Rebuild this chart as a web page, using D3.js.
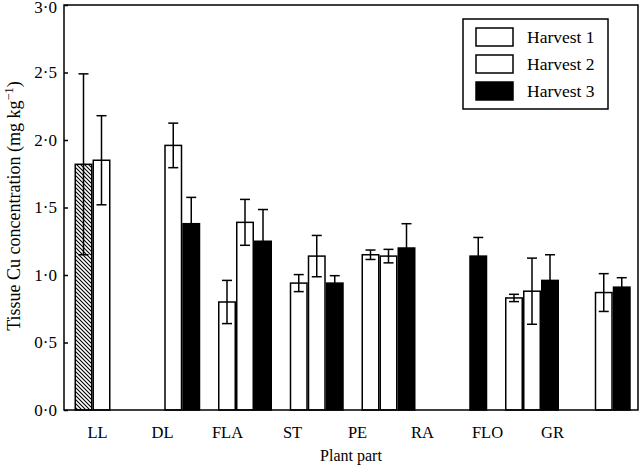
<!DOCTYPE html>
<html><head><meta charset="utf-8">
<script src="https://cdn.jsdelivr.net/npm/d3@7"></script>
<style>body{margin:0;background:#fff}svg{display:block}svg text{font-family:"Liberation Serif",serif;fill:#000}</style>
</head><body><svg id="c" width="640" height="473"></svg>
<script>
const categories = ["LL","DL","FLA","ST","PE","RA","FLO","GR"];
const harvests = ["Harvest 1","Harvest 2","Harvest 3"];
// null = no bar
const h1Values = [1.82, null, 0.80, 0.94, 1.15, null, 0.83, null];
const h1Errors = [0.67, null, 0.16, 0.063, 0.035, null, 0.027, null];
const h2Values = [1.85, 1.96, 1.39, 1.14, 1.14, null, 0.88, 0.87];
const h2Errors = [0.33, 0.165, 0.17, 0.153, 0.05, null, 0.245, 0.14];
const h3Values = [null, 1.38, 1.25, 0.94, 1.20, 1.14, 0.96, 0.91];
const h3Errors = [null, 0.195, 0.235, 0.055, 0.18, 0.138, 0.19, 0.07];
const yTicks = [0, 0.5, 1.0, 1.5, 2.0, 2.5, 3.0];
const hatchedBars = [["LL","Harvest 1"]];

const svg = d3.select("#c");
const L=64, R=638, T=5, B=410;
const x0 = d3.scaleBand().domain(categories).range([L,R]);
const x1 = d3.scaleBand().domain(harvests).range([10.5, 64.5]);
const xLab = d3.scalePoint().domain(categories).range([97,552]);
const y = d3.scaleLinear().domain([0,3]).range([B,T]);

const defs = svg.append("defs");
const pat = defs.append("pattern").attr("id","hatch").attr("patternUnits","userSpaceOnUse")
  .attr("width",4).attr("height",4);
pat.append("rect").attr("width",4).attr("height",4).attr("fill","#fff");
pat.append("path").attr("d","M-1,-1 L5,5 M-1,3 L1,5 M3,-1 L5,1").attr("stroke","#000").attr("stroke-width",1.1);

const series = [
  {h:"Harvest 1", v:h1Values, e:h1Errors, fill:"#fff"},
  {h:"Harvest 2", v:h2Values, e:h2Errors, fill:"#fff"},
  {h:"Harvest 3", v:h3Values, e:h3Errors, fill:"#000"}
];
const data=[];
series.forEach(s=>categories.forEach((c,i)=>{ if(s.v[i]!=null) data.push({c,h:s.h,v:s.v[i],e:s.e[i],fill:s.fill}); }));
const isHatched = d=>hatchedBars.some(([c,h])=>c===d.c&&h===d.h);
const bw = x1.bandwidth()-1.5;

const g = svg.append("g");
g.selectAll("rect.bar").data(data).join("rect").attr("class","bar")
  .attr("x",d=>x0(d.c)+x1(d.h)+0.75).attr("width",bw)
  .attr("y",d=>y(d.v)).attr("height",d=>y(0)-y(d.v))
  .attr("fill",d=>isHatched(d)?"url(#hatch)":d.fill)
  .attr("stroke","#000").attr("stroke-width",1.5);

const eb = g.selectAll("g.err").data(data).join("g").attr("class","err")
  .attr("stroke","#000").attr("stroke-width",1.5).attr("fill","none");
eb.append("line").attr("x1",d=>x0(d.c)+x1(d.h)+0.75+bw/2).attr("x2",d=>x0(d.c)+x1(d.h)+0.75+bw/2)
  .attr("y1",d=>y(d.v+d.e)).attr("y2",d=>y(Math.max(0,d.v-d.e)));
[1,-1].forEach(s=>eb.append("line")
  .attr("x1",d=>x0(d.c)+x1(d.h)+0.75+bw/2-5).attr("x2",d=>x0(d.c)+x1(d.h)+0.75+bw/2+5)
  .attr("y1",d=>y(d.v+s*d.e)).attr("y2",d=>y(d.v+s*d.e)));

svg.append("rect").attr("x",L).attr("y",T).attr("width",R-L).attr("height",B-T)
  .attr("fill","none").attr("stroke","#000").attr("stroke-width",1.5);

const fmt = v=>v.toFixed(1).replace(".","·");
const ya = svg.append("g").attr("transform",`translate(${L},0)`)
  .call(d3.axisLeft(y).tickValues(yTicks).tickFormat(fmt).tickSizeInner(-4).tickSizeOuter(0).tickPadding(7));
ya.attr("font-family",null);
ya.select(".domain").remove();
ya.selectAll(".tick line").attr("stroke","#000").attr("stroke-width",1.5);
ya.selectAll(".tick text").attr("font-size",17)
  .attr("dy",d=>d===3?"0.42em":"0.32em");

const xa = svg.append("g").attr("transform",`translate(0,${B})`)
  .call(d3.axisBottom(xLab).tickSize(0).tickPadding(16));
xa.attr("font-family",null);
xa.select(".domain").remove();
xa.selectAll(".tick text").attr("font-size",16.5);

svg.append("text").attr("x",351).attr("y",461).attr("text-anchor","middle").attr("font-size",16).text("Plant part");
const yl = svg.append("text").attr("transform","translate(20,206) rotate(-90)").attr("text-anchor","middle").attr("font-size",18);
yl.append("tspan").text("Tissue Cu concentration (mg kg");
yl.append("tspan").attr("dy",-7).attr("font-size",12.5).text("−1");
yl.append("tspan").attr("dy",7).text(")");

const lg = svg.append("g");
lg.append("rect").attr("x",463).attr("y",19).attr("width",145).attr("height",90).attr("fill","#fff").attr("stroke","#000").attr("stroke-width",1.5);
series.forEach((s,i)=>{
  lg.append("rect").attr("x",476).attr("y",28+i*27).attr("width",37).attr("height",18)
    .attr("fill",s.fill).attr("stroke","#000").attr("stroke-width",1.5);
  lg.append("text").attr("x",527).attr("y",43+i*27).attr("font-size",17.5).text(s.h);
});
</script></body></html>
